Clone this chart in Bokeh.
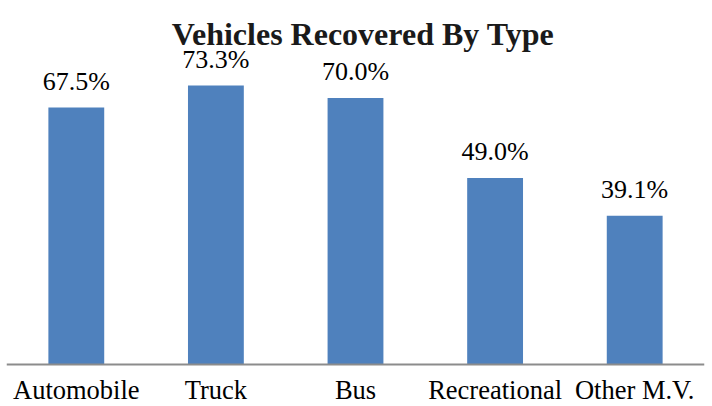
from bokeh.plotting import figure
from bokeh.models import ColumnDataSource, LabelSet, Label, Range1d, Span
from bokeh.embed import file_html
from bokeh.resources import INLINE

categories = ["Automobile", "Truck", "Bus", "Recreational", "Other M.V."]
values = [67.5, 73.3, 70.0, 49.0, 39.1]
labels = [f"{v:.1f}%" for v in values]
title_text = "Vehicles Recovered By Type"

FONT = "Liberation Serif"
BAR = "#4F81BD"

source = ColumnDataSource(dict(cat=categories, val=values, lab=labels,
                               base=[0] * len(categories)))

p = figure(x_range=categories, y_range=Range1d(-11.04, 95.64), width=712, height=406,
           title=None, output_backend="svg", toolbar_location=None,
           min_border_left=6, min_border_right=8, min_border_top=0, min_border_bottom=0)

p.vbar(x="cat", top="val", bottom="base", width=0.4, source=source,
       color=BAR, line_color=None)

# baseline (category axis line)
p.add_layout(Span(location=0, dimension="width", line_color="#8C8C8C", line_width=2))

# value labels
p.add_layout(LabelSet(x="cat", y="val", text="lab", source=source, y_offset=18,
                      text_align="center", text_baseline="alphabetic",
                      text_font=FONT, text_font_size="26px", text_color="#000000"))

# category labels
p.add_layout(LabelSet(x="cat", y="base", text="cat", source=source, y_offset=-35,
                      text_align="center", text_baseline="alphabetic",
                      text_font=FONT, text_font_size="26.5px", text_color="#000000"))

# title
p.add_layout(Label(x=len(categories) / 2, y=95.64, text=title_text, x_offset=7.5, y_offset=-33,
                   text_align="center", text_baseline="alphabetic",
                   text_font=FONT, text_font_size="32px", text_font_style="bold",
                   text_color="#1a1a1a"))

p.xaxis.visible = False
p.yaxis.visible = False
p.xgrid.grid_line_color = None
p.ygrid.grid_line_color = None
p.outline_line_color = None

open("out.html", "w").write(file_html(p, INLINE))
